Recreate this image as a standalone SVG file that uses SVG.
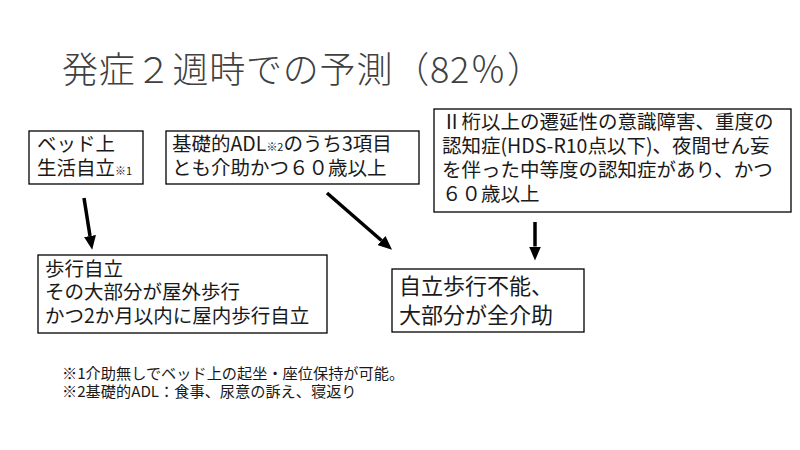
<svg xmlns="http://www.w3.org/2000/svg" width="800" height="450" viewBox="0 0 800 450">
<defs>
<style>
.t{font-family:"Noto Sans CJK JP","Noto Sans",sans-serif;fill:#1a1a1a}
.box{fill:#fff;stroke:#000;stroke-width:1.3}
.b20{font-size:19.5px}
.sm{font-size:11px}
.conn{stroke:#000;stroke-width:3.5;fill:none;marker-end:url(#ah)}
</style>
<marker id="ah" viewBox="0 -6 14 12" refX="0" refY="0" markerWidth="14" markerHeight="12" markerUnits="userSpaceOnUse" orient="auto">
<path d="M0,-6 L14,0 L0,6 z" fill="#000"/>
</marker>
</defs>
<rect width="800" height="450" fill="#fff"/>
<g id="title"><text class="t" x="62" y="83" font-size="36" font-weight="300" letter-spacing="0.8" style="fill:#404040">発症２週時での予測（82％）</text></g>
<g id="connectors">
<line class="conn" x1="84" y1="198" x2="90" y2="236"/>
<line class="conn" x1="327" y1="193" x2="381.5" y2="240.5"/>
<line class="conn" x1="535" y1="222" x2="535" y2="246.5"/>
</g>
<g id="nodeA">
<rect class="box" x="29" y="131" width="114" height="53"/>
<text class="t b20" x="37" y="151">ベッド上</text>
<text class="t b20" x="37" y="175">生活自立<tspan class="sm">※1</tspan></text>
</g>
<g id="nodeB">
<rect class="box" x="166" y="131" width="253" height="53"/>
<text class="t b20" x="172" y="151">基礎的ADL<tspan class="sm">※2</tspan>のうち3項目</text>
<text class="t b20" x="172" y="175">とも介助かつ６０歳以上</text>
</g>
<g id="nodeC">
<rect class="box" x="434" y="109" width="357" height="103"/>
<text class="t b20" x="442" y="129">Ⅱ桁以上の遷延性の意識障害、重度の</text>
<text class="t b20" x="442" y="153">認知症(HDS-R10点以下)、夜間せん妄</text>
<text class="t b20" x="442" y="177">を伴った中等度の認知症があり、かつ</text>
<text class="t b20" x="442" y="201">６０歳以上</text>
</g>
<g id="nodeD">
<rect class="box" x="38" y="255" width="289" height="78"/>
<text class="t b20" x="45" y="276">歩行自立</text>
<text class="t b20" x="45" y="299">その大部分が屋外歩行</text>
<text class="t b20" x="45" y="323">かつ2か月以内に屋内歩行自立</text>
</g>
<g id="nodeE">
<rect class="box" x="392" y="269" width="192" height="63"/>
<text class="t" font-size="22" x="399" y="294">自立歩行不能、</text>
<text class="t" font-size="22" x="399" y="323">大部分が全介助</text>
</g>
<g id="notes">
<text class="t" font-size="15.2" x="62" y="379">※1介助無しでベッド上の起坐・座位保持が可能。</text>
<text class="t" font-size="15.2" x="62" y="397">※2基礎的ADL：食事、尿意の訴え、寝返り</text>
</g>
</svg>
